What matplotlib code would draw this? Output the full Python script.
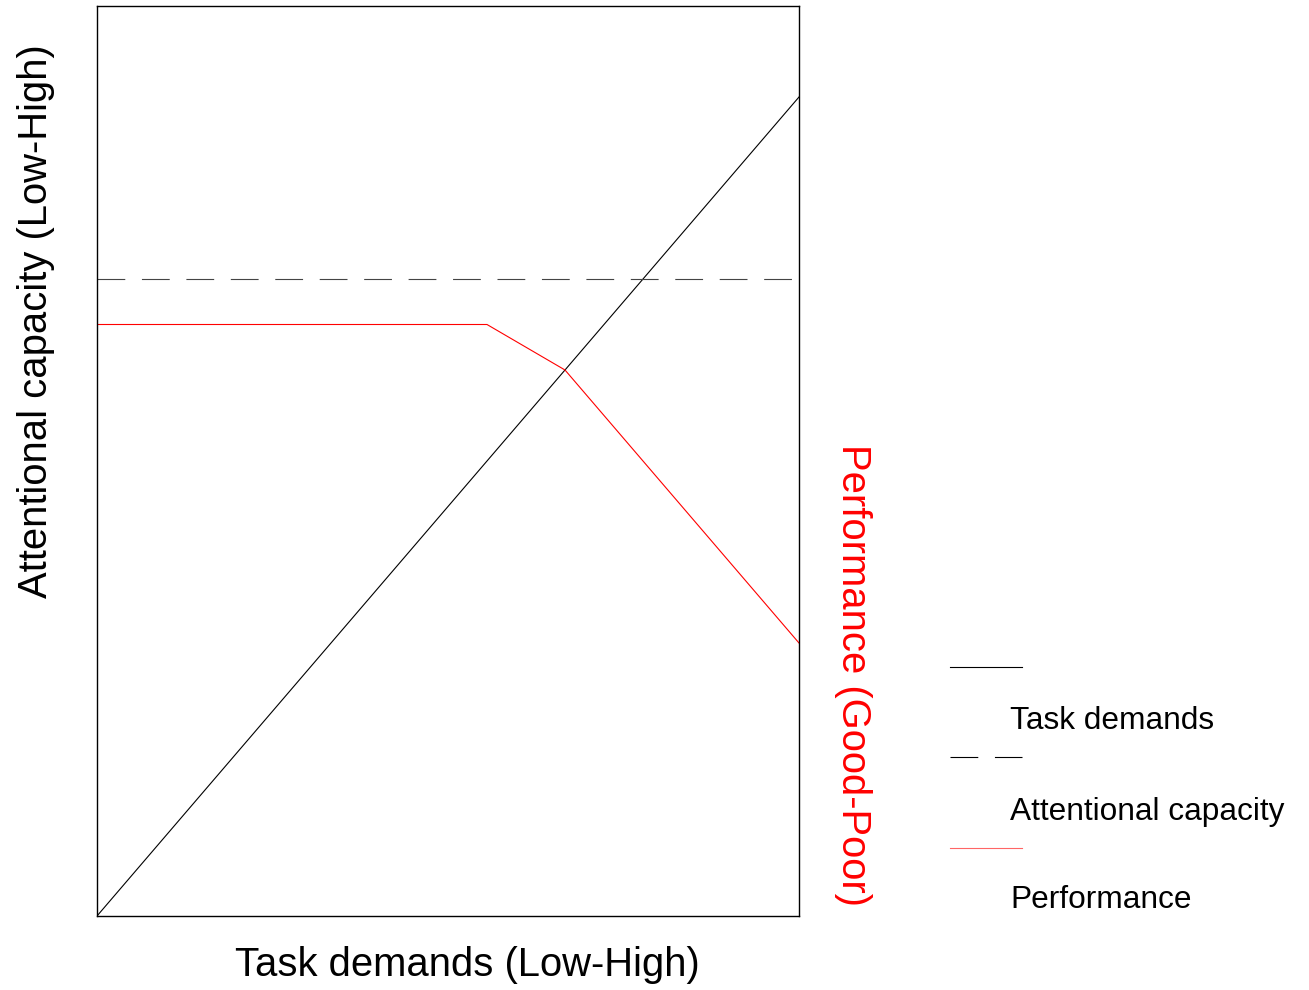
import matplotlib.pyplot as plt
from matplotlib.lines import Line2D

plt.rcParams['font.family'] = ['Liberation Sans', 'DejaVu Sans']

# Data (x: task demand level, y: arbitrary units)
task_x = [0, 1, 2, 3, 4, 5, 6, 7, 8, 9]
task_demands = [0, 1, 2, 3, 4, 5, 6, 7, 8, 9]
capacity_x = [0, 9]
capacity = [7, 7]
perf_x = [0, 1, 2, 3, 4, 5, 6, 7, 8, 9]
performance = [6.5, 6.5, 6.5, 6.5, 6.5, 6.5, 6, 5, 4, 3]

legend_labels = ['Task demands', 'Attentional capacity', 'Performance']

W, H = 1309, 990
fig = plt.figure(figsize=(W / 100, H / 100), dpi=100)
ax = fig.add_axes([97 / W, 1 - 916 / H, 702 / W, 910 / H])

lw = 0.8
ax.plot(task_x, task_demands, color='black', lw=lw)
ax.plot(capacity_x, capacity, color='#444444', lw=lw, dashes=(25, 15))
ax.plot(perf_x, performance, color='red', lw=lw)

ax.set_xlim(0, 9)
ax.set_ylim(0, 10)
ax.set_xticks([])
ax.set_yticks([])
for s in ax.spines.values():
    s.set_linewidth(1.0)

# Axis titles (placed like in the original figure, not centred on the axes)
fs = 28.8
fig.text(467 / W, 1 - 965 / H, 'Task demands (Low-High)', fontsize=fs,
         ha='center', va='center')
fig.text(36 / W, 1 - 321 / H, 'Attentional capacity (Low-High)', fontsize=fs,
         rotation=90, ha='center', va='center')
fig.text(853 / W, 1 - 675 / H, 'Performance (Good-Poor)', color='red',
         fontsize=fs, rotation=-90, ha='center', va='center')

# Legend: line sample above its label
styles = [dict(color='black'), dict(color='black', dashes=(25, 15)),
          dict(color='#ff6666')]
line_y = [667, 757, 848]
text_y = [721, 812, 900]
for lab, st, ly, ty in zip(legend_labels, styles, line_y, text_y):
    fig.add_artist(Line2D([950 / W, 1022 / W], [1 - ly / H, 1 - ly / H],
                          lw=lw, transform=fig.transFigure, **st))
    fig.text(1010 / W, 1 - ty / H, lab, fontsize=22.8, ha='left', va='center')

plt.savefig('out.png')
